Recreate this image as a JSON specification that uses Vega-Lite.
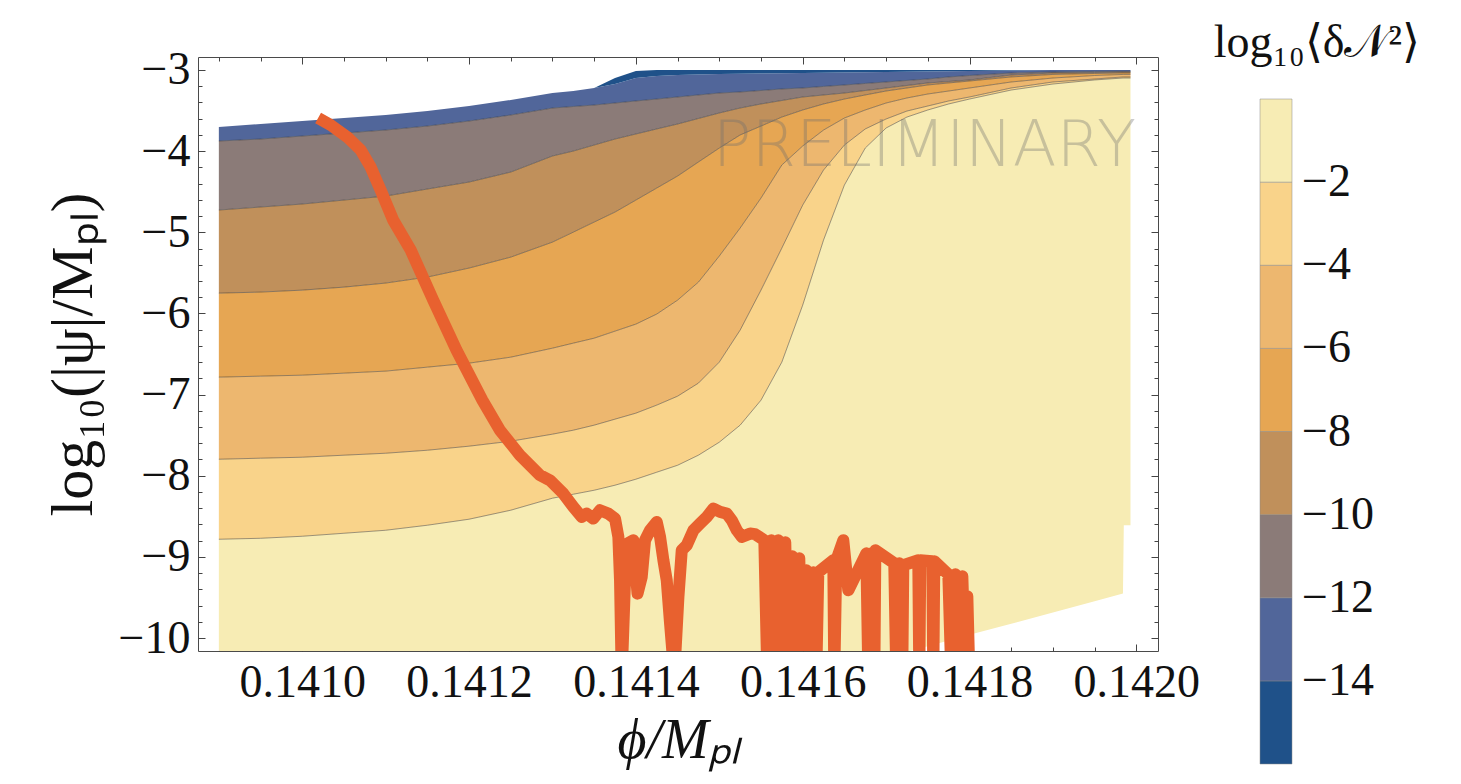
{
"$schema":"https://vega.github.io/schema/vega-lite/v6.json",
"width":960,"height":594,
"autosize":{"type":"none"},
"padding":{"left":198,"top":57,"right":303,"bottom":133},
"background":"white",
"config":{
 "view":{"stroke":"#4a4a4a","strokeWidth":1},
 "axis":{"labelFont":"Liberation Serif","labelFontSize":46,"labelColor":"#111","titleFont":"Liberation Serif","titleFontSize":56,"titleFontWeight":"normal","titleColor":"#111","tickColor":"#444","tickWidth":1,"grid":false,"domain":false,"labelFlush":false,"labelOverlap":false}
},
"datasets":{
"grid":[
{"x":0.1409,"B":-10.5,"C2":-8.783,"C4":-7.797,"C6":-6.785,"C8":-5.75,"C10":-4.726,"C12":-3.875,"C14":-3.703,"T":-3.703},
{"x":0.14095,"B":-10.5,"C2":-8.771,"C4":-7.784,"C6":-6.773,"C8":-5.737,"C10":-4.689,"C12":-3.851,"C14":-3.666,"T":-3.666},
{"x":0.141,"B":-10.5,"C2":-8.746,"C4":-7.772,"C6":-6.761,"C8":-5.713,"C10":-4.652,"C12":-3.814,"C14":-3.629,"T":-3.629},
{"x":0.14105,"B":-10.5,"C2":-8.709,"C4":-7.747,"C6":-6.736,"C8":-5.676,"C10":-4.603,"C12":-3.777,"C14":-3.592,"T":-3.592},
{"x":0.1411,"B":-10.5,"C2":-8.672,"C4":-7.723,"C6":-6.711,"C8":-5.626,"C10":-4.554,"C12":-3.74,"C14":-3.555,"T":-3.555},
{"x":0.14115,"B":-10.5,"C2":-8.61,"C4":-7.686,"C6":-6.662,"C8":-5.552,"C10":-4.467,"C12":-3.691,"C14":-3.506,"T":-3.506},
{"x":0.1412,"B":-10.5,"C2":-8.536,"C4":-7.636,"C6":-6.613,"C8":-5.441,"C10":-4.381,"C12":-3.629,"C14":-3.444,"T":-3.444},
{"x":0.14125,"B":-10.5,"C2":-8.425,"C4":-7.575,"C6":-6.539,"C8":-5.306,"C10":-4.258,"C12":-3.555,"C14":-3.37,"T":-3.37},
{"x":0.1413,"B":-10.5,"C2":-8.277,"C4":-7.488,"C6":-6.428,"C8":-5.121,"C10":-4.06,"C12":-3.469,"C14":-3.284,"T":-3.284},
{"x":0.141325,"B":-10.5,"C2":-8.228,"C4":-7.439,"C6":-6.366,"C8":-4.998,"C10":-3.999,"C12":-3.45,"C14":-3.259,"T":-3.259},
{"x":0.14135,"B":-10.5,"C2":-8.179,"C4":-7.377,"C6":-6.305,"C8":-4.874,"C10":-3.925,"C12":-3.432,"C14":-3.222,"T":-3.222},
{"x":0.141375,"B":-10.5,"C2":-8.117,"C4":-7.303,"C6":-6.218,"C8":-4.751,"C10":-3.851,"C12":-3.407,"C14":-3.173,"T":-3.099},
{"x":0.1414,"B":-10.5,"C2":-8.043,"C4":-7.229,"C6":-6.132,"C8":-4.603,"C10":-3.789,"C12":-3.382,"C14":-3.099,"T":-3.012},
{"x":0.141425,"B":-10.5,"C2":-7.957,"C4":-7.13,"C6":-6.008,"C8":-4.455,"C10":-3.727,"C12":-3.358,"C14":-3.074,"T":-3},
{"x":0.14145,"B":-10.5,"C2":-7.871,"C4":-7.02,"C6":-5.836,"C8":-4.307,"C10":-3.666,"C12":-3.333,"C14":-3.062,"T":-3},
{"x":0.141475,"B":-10.5,"C2":-7.747,"C4":-6.859,"C6":-5.614,"C8":-4.134,"C10":-3.598,"C12":-3.308,"C14":-3.055,"T":-3},
{"x":0.1415,"B":-10.5,"C2":-7.587,"C4":-6.6,"C6":-5.293,"C8":-3.962,"C10":-3.53,"C12":-3.284,"C14":-3.049,"T":-3},
{"x":0.141525,"B":-10.5,"C2":-7.377,"C4":-6.206,"C6":-4.948,"C8":-3.801,"C10":-3.469,"C12":-3.271,"C14":-3.046,"T":-3},
{"x":0.14155,"B":-10.5,"C2":-7.069,"C4":-5.713,"C6":-4.578,"C8":-3.691,"C10":-3.419,"C12":-3.253,"C14":-3.043,"T":-3},
{"x":0.141575,"B":-10.5,"C2":-6.6,"C4":-5.195,"C6":-4.171,"C8":-3.58,"C10":-3.376,"C12":-3.234,"C14":-3.04,"T":-3},
{"x":0.1416,"B":-10.5,"C2":-5.898,"C4":-4.665,"C6":-3.937,"C8":-3.493,"C10":-3.333,"C12":-3.222,"C14":-3.037,"T":-3},
{"x":0.141625,"B":-10.5,"C2":-5.096,"C4":-4.233,"C6":-3.74,"C8":-3.419,"C10":-3.308,"C12":-3.203,"C14":-3.034,"T":-3},
{"x":0.14165,"B":-10.5,"C2":-4.418,"C4":-3.925,"C6":-3.592,"C8":-3.358,"C10":-3.284,"C12":-3.185,"C14":-3.031,"T":-3},
{"x":0.141675,"B":-10.5,"C2":-3.962,"C4":-3.727,"C6":-3.493,"C8":-3.308,"C10":-3.253,"C12":-3.166,"C14":-3.028,"T":-3},
{"x":0.1417,"B":-10.5,"C2":-3.715,"C4":-3.604,"C6":-3.407,"C8":-3.259,"C10":-3.222,"C12":-3.148,"C14":-3.025,"T":-3},
{"x":0.141725,"B":-10.17,"C2":-3.58,"C4":-3.506,"C6":-3.345,"C8":-3.222,"C10":-3.191,"C12":-3.129,"C14":-3.022,"T":-3},
{"x":0.14175,"B":-10.1,"C2":-3.493,"C4":-3.444,"C6":-3.296,"C8":-3.185,"C10":-3.16,"C12":-3.111,"C14":-3.018,"T":-3},
{"x":0.141775,"B":-10.03,"C2":-3.419,"C4":-3.382,"C6":-3.259,"C8":-3.16,"C10":-3.142,"C12":-3.086,"C14":-3.015,"T":-3},
{"x":0.1418,"B":-9.96,"C2":-3.358,"C4":-3.333,"C6":-3.222,"C8":-3.136,"C10":-3.123,"C12":-3.068,"C14":-3.012,"T":-3},
{"x":0.14185,"B":-9.825,"C2":-3.247,"C4":-3.222,"C6":-3.148,"C8":-3.086,"C10":-3.062,"C12":-3.037,"C14":-3.006,"T":-3},
{"x":0.1419,"B":-9.686,"C2":-3.173,"C4":-3.148,"C6":-3.099,"C8":-3.055,"C10":-3.037,"C12":-3.025,"C14":-3,"T":-3},
{"x":0.14195,"B":-9.547,"C2":-3.123,"C4":-3.111,"C6":-3.068,"C8":-3.043,"C10":-3.031,"C12":-3.018,"C14":-3,"T":-3},
{"x":0.141984,"B":-9.452,"C2":-3.099,"C4":-3.086,"C6":-3.055,"C8":-3.037,"C10":-3.025,"C12":-3.016,"C14":-3,"T":-3},
{"x":0.141985,"B":-8.61,"C2":-3.099,"C4":-3.086,"C6":-3.055,"C8":-3.037,"C10":-3.025,"C12":-3.016,"C14":-3,"T":-3},
{"x":0.141993,"B":-8.61,"C2":-3.099,"C4":-3.086,"C6":-3.055,"C8":-3.037,"C10":-3.025,"C12":-3.015,"C14":-3,"T":-3}
],
"traj":[
{"t":1,"x":0.141019,"y":-3.592},{"t":2,"x":0.141034,"y":-3.678},{"t":3,"x":0.141054,"y":-3.826},{"t":4,"x":0.14107,"y":-3.986},{"t":5,"x":0.141082,"y":-4.196},{"t":6,"x":0.141094,"y":-4.48},{"t":7,"x":0.141109,"y":-4.85},{"t":8,"x":0.14113,"y":-5.219},{"t":9,"x":0.141157,"y":-5.836},{"t":10,"x":0.141185,"y":-6.453},
{"t":11,"x":0.141216,"y":-7.069},{"t":12,"x":0.141237,"y":-7.439},{"t":13,"x":0.141261,"y":-7.747},{"t":14,"x":0.141285,"y":-7.994},{"t":15,"x":0.141297,"y":-8.056},{"t":16,"x":0.141313,"y":-8.22},{"t":17,"x":0.141325,"y":-8.385},{"t":18,"x":0.141335,"y":-8.508},{"t":19,"x":0.141341,"y":-8.467},{"t":20,"x":0.141349,"y":-8.528},
{"t":21,"x":0.141357,"y":-8.425},{"t":22,"x":0.141367,"y":-8.467},{"t":23,"x":0.141375,"y":-8.528},{"t":24,"x":0.141379,"y":-8.754},{"t":25,"x":0.141381,"y":-9.289},{"t":26,"x":0.141383,"y":-10.45},{"t":27,"x":0.141387,"y":-9.289},{"t":28,"x":0.14139,"y":-8.836},{"t":29,"x":0.141397,"y":-8.795},{"t":30,"x":0.141399,"y":-9.083},
{"t":31,"x":0.141402,"y":-9.453},{"t":32,"x":0.141407,"y":-9.248},{"t":33,"x":0.141411,"y":-8.795},{"t":34,"x":0.141417,"y":-8.672},{"t":35,"x":0.141425,"y":-8.569},{"t":36,"x":0.141429,"y":-8.754},{"t":37,"x":0.141433,"y":-9.042},{"t":38,"x":0.141437,"y":-9.289},{"t":39,"x":0.141441,"y":-9.823},{"t":40,"x":0.141446,"y":-10.45},
{"t":41,"x":0.141451,"y":-9.494},{"t":42,"x":0.141455,"y":-8.919},{"t":43,"x":0.141461,"y":-8.857},{"t":44,"x":0.141469,"y":-8.672},{"t":45,"x":0.141477,"y":-8.59},{"t":46,"x":0.141485,"y":-8.508},{"t":47,"x":0.141493,"y":-8.405},{"t":48,"x":0.141501,"y":-8.446},{"t":49,"x":0.141509,"y":-8.467},{"t":50,"x":0.141515,"y":-8.549},
{"t":51,"x":0.141521,"y":-8.672},{"t":52,"x":0.141527,"y":-8.754},{"t":53,"x":0.141537,"y":-8.713},{"t":54,"x":0.141543,"y":-8.72},
{"t":55,"x":0.141554,"y":-8.795},{"t":56,"x":0.1415576,"y":-10.45},{"t":57,"x":0.1415624,"y":-8.795},{"t":58,"x":0.1415659,"y":-10.45},{"t":59,"x":0.1415707,"y":-8.795},{"t":60,"x":0.1415743,"y":-10.45},
{"t":61,"x":0.1415791,"y":-8.82},{"t":62,"x":0.1415827,"y":-10.45},{"t":63,"x":0.1415875,"y":-8.993},{"t":64,"x":0.1415911,"y":-10.45},{"t":65,"x":0.1415959,"y":-9.017},{"t":66,"x":0.1415995,"y":-10.45},{"t":67,"x":0.1416043,"y":-9.165},{"t":68,"x":0.1416079,"y":-10.45},{"t":69,"x":0.1416127,"y":-9.19},{"t":70,"x":0.1416163,"y":-10.45},
{"t":71,"x":0.1416187,"y":-9.19},{"t":72,"x":0.1416367,"y":-9.042},{"t":73,"x":0.1416379,"y":-10.45},{"t":74,"x":0.1416403,"y":-9.042},{"t":75,"x":0.1416487,"y":-8.795},{"t":76,"x":0.1416547,"y":-9.412},{"t":77,"x":0.1416763,"y":-8.956},{"t":78,"x":0.1416787,"y":-10.45},{"t":79,"x":0.1416823,"y":-8.956},{"t":80,"x":0.1416859,"y":-10.45},
{"t":81,"x":0.1416871,"y":-8.919},{"t":82,"x":0.1417098,"y":-9.079},{"t":83,"x":0.1417122,"y":-10.45},{"t":84,"x":0.1417158,"y":-9.079},{"t":85,"x":0.1417194,"y":-10.45},{"t":86,"x":0.1417206,"y":-9.104},{"t":87,"x":0.1417386,"y":-9.042},{"t":88,"x":0.1417398,"y":-10.45},{"t":89,"x":0.141741,"y":-9.042},{"t":90,"x":0.1417554,"y":-9.054},
{"t":91,"x":0.1417566,"y":-10.45},{"t":92,"x":0.1417578,"y":-9.054},{"t":93,"x":0.1417746,"y":-9.215},{"t":94,"x":0.1417782,"y":-10.45},{"t":95,"x":0.141783,"y":-9.215},{"t":96,"x":0.1417866,"y":-10.45},{"t":97,"x":0.1417914,"y":-9.239},{"t":98,"x":0.141795,"y":-10.45},{"t":99,"x":0.1417974,"y":-9.486},{"t":100,"x":0.1417998,"y":-10.45}
],
"wm":[{"x":0.141746,"y":-3.95,"label":"PRELIMINARY"}]
},
"layer":[
{"data":{"name":"grid"},"mark":{"type":"area","clip":true},
 "encoding":{
  "x":{"field":"x","type":"quantitative","scale":{"domain":[0.140875,0.142026],"nice":false,"zero":false},
       "axis":{"orient":"bottom","values":[0.141,0.1412,0.1414,0.1416,0.1418,0.142],"format":".4f","tickSize":-7,"labelPadding":16,"title":"ϕ/Mₚₗ","titleFontStyle":"italic","titlePadding":8}},
  "y":{"field":"C2","type":"quantitative","scale":{"domain":[-10.16,-2.84],"nice":false,"zero":false},
       "axis":{"orient":"left","values":[-10,-9,-8,-7,-6,-5,-4,-3],"format":"d","tickSize":-7,"labelPadding":15,"title":"log₁₀(|ψ|/Mₚₗ)","titleFontSize":60,"titlePadding":14}},
  "y2":{"field":"B"},
  "fill":{"datum":-1,"type":"quantitative",
     "scale":{"type":"threshold","domain":[-14,-12,-10,-8,-6,-4,-2],"range":["#1F5189","#51669A","#8B7B78","#C0905B","#E6A653","#EDB76F","#F9D38A","#F7ECB4"]},
     "legend":{"type":"gradient","orient":"none","legendX":1016,"legendY":-36,"direction":"vertical","title":"log₁₀⟨δ𝒩²⟩","titleLimit":500,"titleFont":"Liberation Serif","titleFontSize":46,"titleFontWeight":"normal","titleColor":"#111","titlePadding":32,"titleAnchor":"middle","gradientLength":665,"gradientThickness":32,"gradientStrokeColor":"#888","gradientStrokeWidth":0.5,"labelFont":"Liberation Serif","labelFontSize":46,"labelColor":"#111","labelOffset":10,"format":"d","labelOverlap":false}}
 }},
{"data":{"name":"grid"},"mark":{"type":"area","clip":true,"fill":"#F9D38A"},
 "encoding":{
  "x":{"field":"x","type":"quantitative","scale":{"domain":[0.140875,0.142026],"nice":false,"zero":false},
       "axis":{"orient":"bottom","values":[0.1409,0.14095,0.141,0.14105,0.1411,0.14115,0.1412,0.14125,0.1413,0.14135,0.1414,0.14145,0.1415,0.14155,0.1416,0.14165,0.1417,0.14175,0.1418,0.14185,0.1419,0.14195,0.142],"labels":false,"tickSize":-4,"title":null}},
  "y":{"field":"C4","type":"quantitative","scale":{"domain":[-10.16,-2.84],"nice":false,"zero":false},
       "axis":{"orient":"left","values":[-10,-9.8,-9.6,-9.4,-9.2,-9,-8.8,-8.6,-8.4,-8.2,-8,-7.8,-7.6,-7.4,-7.2,-7,-6.8,-6.6,-6.4,-6.2,-6,-5.8,-5.6,-5.4,-5.2,-5,-4.8,-4.6,-4.4,-4.2,-4,-3.8,-3.6,-3.4,-3.2,-3],"labels":false,"tickSize":-4,"title":null}},
  "y2":{"field":"C2"}
 }},
{"data":{"name":"grid"},"mark":{"type":"area","clip":true,"fill":"#EDB76F"},
 "encoding":{
  "x":{"field":"x","type":"quantitative","scale":{"domain":[0.140875,0.142026],"nice":false,"zero":false},
       "axis":{"orient":"top","values":[0.141,0.1412,0.1414,0.1416,0.1418,0.142],"labels":false,"tickSize":-7,"title":null}},
  "y":{"field":"C6","type":"quantitative","scale":{"domain":[-10.16,-2.84],"nice":false,"zero":false},
       "axis":{"orient":"right","values":[-10,-9,-8,-7,-6,-5,-4,-3],"labels":false,"tickSize":-7,"title":null}},
  "y2":{"field":"C4"}
 }},
{"data":{"name":"grid"},"mark":{"type":"area","clip":true,"fill":"#E6A653"},
 "encoding":{
  "x":{"field":"x","type":"quantitative","scale":{"domain":[0.140875,0.142026],"nice":false,"zero":false},
       "axis":{"orient":"top","values":[0.1409,0.14095,0.141,0.14105,0.1411,0.14115,0.1412,0.14125,0.1413,0.14135,0.1414,0.14145,0.1415,0.14155,0.1416,0.14165,0.1417,0.14175,0.1418,0.14185,0.1419,0.14195,0.142],"labels":false,"tickSize":-4,"title":null}},
  "y":{"field":"C8","type":"quantitative","scale":{"domain":[-10.16,-2.84],"nice":false,"zero":false},
       "axis":{"orient":"right","values":[-10,-9.8,-9.6,-9.4,-9.2,-9,-8.8,-8.6,-8.4,-8.2,-8,-7.8,-7.6,-7.4,-7.2,-7,-6.8,-6.6,-6.4,-6.2,-6,-5.8,-5.6,-5.4,-5.2,-5,-4.8,-4.6,-4.4,-4.2,-4,-3.8,-3.6,-3.4,-3.2,-3],"labels":false,"tickSize":-4,"title":null}},
  "y2":{"field":"C6"}
 }},
{"data":{"name":"grid"},"mark":{"type":"area","clip":true,"fill":"#C0905B"},
 "encoding":{
  "x":{"field":"x","type":"quantitative","scale":{"domain":[0.140875,0.142026],"nice":false,"zero":false},"axis":null},
  "y":{"field":"C10","type":"quantitative","scale":{"domain":[-10.16,-2.84],"nice":false,"zero":false},"axis":null},
  "y2":{"field":"C8"}
 }},
{"data":{"name":"grid"},"mark":{"type":"area","clip":true,"fill":"#8B7B78"},
 "encoding":{
  "x":{"field":"x","type":"quantitative","scale":{"domain":[0.140875,0.142026],"nice":false,"zero":false},"axis":null},
  "y":{"field":"C12","type":"quantitative","scale":{"domain":[-10.16,-2.84],"nice":false,"zero":false},"axis":null},
  "y2":{"field":"C10"}
 }},
{"data":{"name":"grid"},"mark":{"type":"area","clip":true,"fill":"#51669A"},
 "encoding":{
  "x":{"field":"x","type":"quantitative","scale":{"domain":[0.140875,0.142026],"nice":false,"zero":false},"axis":null},
  "y":{"field":"C14","type":"quantitative","scale":{"domain":[-10.16,-2.84],"nice":false,"zero":false},"axis":null},
  "y2":{"field":"C12"}
 }},
{"data":{"name":"grid"},"mark":{"type":"area","clip":true,"fill":"#1F5189"},
 "encoding":{
  "x":{"field":"x","type":"quantitative","scale":{"domain":[0.140875,0.142026],"nice":false,"zero":false},"axis":null},
  "y":{"field":"T","type":"quantitative","scale":{"domain":[-10.16,-2.84],"nice":false,"zero":false},"axis":null},
  "y2":{"field":"C14"}
 }},
{"data":{"name":"grid"},
 "transform":[{"fold":["C2","C4","C6","C8","C10","C12"],"as":["key","val"]}],
 "mark":{"type":"line","clip":true,"strokeWidth":0.8,"color":"#333333","opacity":0.6},
 "encoding":{
  "x":{"field":"x","type":"quantitative","scale":{"domain":[0.140875,0.142026],"nice":false,"zero":false},"axis":null},
  "y":{"field":"val","type":"quantitative","scale":{"domain":[-10.16,-2.84],"nice":false,"zero":false},"axis":null},
  "detail":{"field":"key","type":"nominal"}
 }},
{"data":{"name":"wm"},
 "mark":{"type":"text","font":"DejaVu Sans","fontWeight":200,"fontSize":64,"fill":"#6f6f6f","opacity":0.35,"align":"center","baseline":"middle"},
 "encoding":{
  "x":{"field":"x","type":"quantitative","scale":{"domain":[0.140875,0.142026],"nice":false,"zero":false},"axis":null},
  "y":{"field":"y","type":"quantitative","scale":{"domain":[-10.16,-2.84],"nice":false,"zero":false},"axis":null},
  "text":{"field":"label"}
 }},
{"data":{"name":"traj"},
 "mark":{"type":"line","clip":true,"strokeWidth":12,"color":"#E8612F","strokeJoin":"round","strokeCap":"butt"},
 "encoding":{
  "x":{"field":"x","type":"quantitative","scale":{"domain":[0.140875,0.142026],"nice":false,"zero":false},"axis":null},
  "y":{"field":"y","type":"quantitative","scale":{"domain":[-10.16,-2.84],"nice":false,"zero":false},"axis":null},
  "order":{"field":"t","type":"quantitative"}
 }}
],
"resolve":{"axis":{"x":"independent","y":"independent"}}
}
